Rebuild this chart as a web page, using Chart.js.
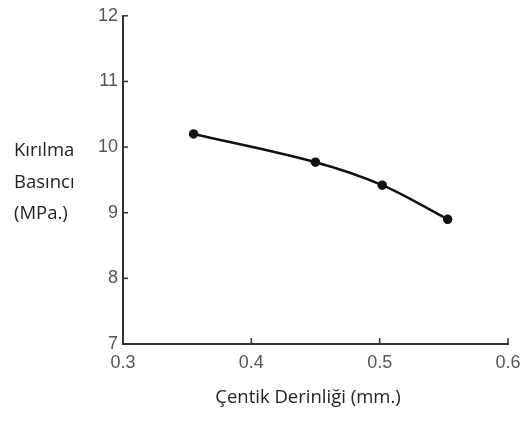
<!DOCTYPE html>
<html>
<head>
<meta charset="utf-8">
<script src="https://cdn.jsdelivr.net/npm/chart.js@4"></script>
<style>
  html, body { margin: 0; padding: 0; background: #fff; }
  #wrap { position: relative; width: 529px; height: 421px; }
</style>
</head>
<body>
<div id="wrap"><canvas id="chart" width="529" height="421"></canvas></div>
<script>
var depths = [0.355, 0.45, 0.502, 0.553];
var pressures = [10.2, 9.77, 9.42, 8.9];
var xTicks = [0.3, 0.4, 0.5, 0.6];
var yTicks = [7, 8, 9, 10, 11, 12];
var yTitle = ['Kırılma', 'Basıncı', '(MPa.)'];
var xTitle = 'Çentik Derinliği (mm.)';

var pts = [];
for (let i = 0; i < depths.length; i++) {
    pts.push({x: depths[i], y: pressures[i]});
};

// inward tick marks + axis titles
var extras = {
  id: 'extras',
  afterDraw: function(chart) {
    const ctx = chart.ctx, a = chart.chartArea;
    const xs = chart.scales.x, ys = chart.scales.y;
    ctx.save();
    ctx.strokeStyle = '#333';
    ctx.lineWidth = 1.5;
    for (let i = 0; i < yTicks.length; i++) {
        let py = ys.getPixelForValue(yTicks[i]);
        ctx.beginPath(); ctx.moveTo(a.left, py); ctx.lineTo(a.left + 5, py); ctx.stroke();
    };
    for (let i = 0; i < xTicks.length; i++) {
        let px = xs.getPixelForValue(xTicks[i]);
        ctx.beginPath(); ctx.moveTo(px, a.bottom); ctx.lineTo(px, a.bottom - 6); ctx.stroke();
    };
    ctx.fillStyle = '#222';
    ctx.font = '18.5px "Open Sans"';
    ctx.textAlign = 'left';
    ctx.textBaseline = 'middle';
    for (let i = 0; i < yTitle.length; i++) {
        ctx.fillText(yTitle[i], 14, 151 + i * 31.5);
    };
    ctx.textAlign = 'center';
    ctx.font = '18.5px "Open Sans"';
    ctx.fillText(xTitle, 308, 398);
    ctx.restore();
  }
};

new Chart(document.getElementById('chart'), {
  type: 'scatter',
  data: {
    datasets: [{
      data: pts,
      showLine: true,
      borderColor: '#111',
      backgroundColor: '#111',
      borderWidth: 2.5,
      pointRadius: 3.5,
      tension: 0.35
    }]
  },
  options: {
    responsive: false,
    animation: false,
    layout: { padding: { top: 14, right: 21, left: 0, bottom: 0 } },
    plugins: { legend: { display: false }, tooltip: { enabled: false } },
    scales: {
      x: {
        type: 'linear',
        min: 0.3, max: 0.6,
        afterFit: function(s) { s.height = 77; },
        afterBuildTicks: function(s) { s.ticks = xTicks.map(v => ({value: v})); },
        grid: { display: false, drawTicks: false },
        border: { color: '#333', width: 2 },
        ticks: {
          padding: 8,
          color: '#555',
          font: { family: '"Liberation Sans", Arial', size: 18 },
          callback: v => v.toFixed(1)
        }
      },
      y: {
        type: 'linear',
        min: 7, max: 12,
        afterFit: function(s) { s.width = 123; },
        afterBuildTicks: function(s) { s.ticks = yTicks.map(v => ({value: v})); },
        grid: { display: false, drawTicks: false },
        border: { color: '#333', width: 2 },
        ticks: {
          padding: 5,
          color: '#555',
          font: { family: '"Liberation Sans", Arial', size: 18 }
        }
      }
    }
  },
  plugins: [extras]
});
</script>
</body>
</html>
